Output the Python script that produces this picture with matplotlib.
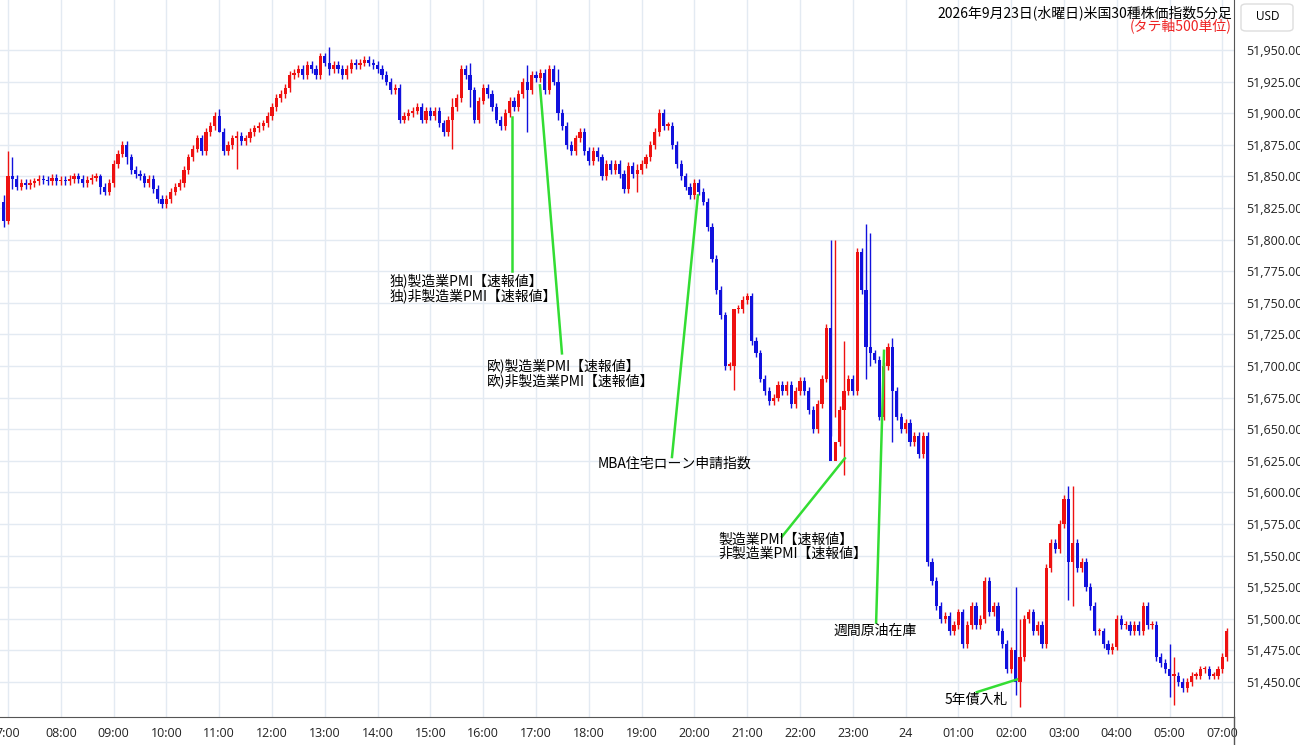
import matplotlib
matplotlib.use("Agg")
import matplotlib.pyplot as plt
from matplotlib.patches import FancyBboxPatch

plt.rcParams['font.family'] = ['Noto Sans CJK JP', 'DejaVu Sans']

# 5-minute closes, first candle 06:55, then hourly blocks from 07:00 (no 06:00 session)
first_open = 51830
closes = [51815,
 51850,51848,51842,51845,51843,51845,51846,51848,51847,51846,51849,51846,  # 07
 51847,51846,51848,51850,51848,51845,51847,51849,51850,51842,51838,51845,  # 08
 51860,51868,51875,51865,51855,51852,51850,51845,51848,51840,51832,51828,  # 09
 51832,51838,51842,51845,51855,51865,51872,51880,51870,51885,51890,51898,  # 10
 51885,51870,51875,51880,51882,51878,51880,51885,51888,51890,51892,51898,  # 11
 51905,51912,51915,51920,51930,51932,51935,51930,51938,51935,51930,51945,  # 12
 51940,51935,51938,51935,51930,51935,51940,51938,51940,51942,51940,51938,  # 13
 51935,51930,51925,51918,51920,51895,51898,51900,51902,51905,51895,51902,  # 14
 51898,51902,51892,51885,51895,51905,51912,51935,51930,51918,51895,51910,  # 15
 51920,51915,51905,51895,51890,51900,51910,51905,51915,51925,51918,51930,  # 16
 51928,51932,51918,51935,51925,51900,51890,51875,51870,51880,51885,51870,  # 17
 51862,51870,51865,51850,51860,51855,51860,51852,51840,51858,51852,51855,  # 18
 51860,51865,51875,51885,51900,51890,51890,51875,51860,51850,51842,51835,  # 19
 51845,51838,51830,51810,51785,51760,51740,51700,51700,51745,51745,51752,  # 20
 51755,51720,51710,51690,51680,51672,51675,51685,51680,51685,51670,51680,  # 21
 51688,51680,51665,51650,51670,51690,51730,51625,51640,51665,51680,51690,  # 22
 51680,51790,51760,51715,51710,51705,51660,51700,51715,51680,51660,51650,  # 23
 51655,51640,51645,51630,51645,51545,51530,51510,51500,51502,51490,51495,  # 00
 51505,51480,51495,51510,51495,51500,51530,51505,51510,51490,51480,51460,  # 01
 51475,51450,51470,51500,51505,51490,51495,51480,51540,51560,51555,51575,  # 02
 51595,51545,51560,51540,51545,51525,51510,51490,51490,51480,51475,51478,  # 03
 51500,51495,51495,51490,51495,51490,51510,51495,51495,51470,51465,51460,  # 04
 51455,51455,51450,51445,51450,51455,51455,51460,51460,51455,51455,51460,  # 05
 51470,51490]  # 07
# notable wick extremes: candle index -> (high, low)
wicks = {0: (51835, 51810), 1: (51870, 51812), 2: (51865, 51840), 22: (51852, 51836),
         28: (51878, 51860), 49: (51903, 51885), 53: (51886, 51856), 74: (51952, 51930),
         102: (51912, 51872), 106: (51940, 51905), 119: (51938, 51885), 126: (51935, 51895),
         144: (51860, 51838), 166: (51745, 51681), 188: (51800, 51645), 189: (51800, 51660),
         191: (51720, 51614), 196: (51812, 51690), 197: (51805, 51700), 202: (51722, 51640),
         230: (51525, 51440), 231: (51500, 51430), 242: (51605, 51515), 243: (51605, 51510),
         265: (51480, 51438), 266: (51470, 51432)}
tick_labels = ["7:00", "08:00", "09:00", "10:00", "11:00", "12:00", "13:00", "14:00", "15:00",
               "16:00", "17:00", "18:00", "19:00", "20:00", "21:00", "22:00", "23:00", "24",
               "01:00", "02:00", "03:00", "04:00", "05:00", "07:00"]
price_ticks = list(range(51450, 51951, 25))
events = [
    ("独)製造業PMI【速報値】\n独)非製造業PMI【速報値】", 115.5, 51897, 115.5, 51775, 87.8, 51773),
    ("欧)製造業PMI【速報値】\n欧)非製造業PMI【速報値】", 121.9, 51922, 126.9, 51710, 109.9, 51706),
    ("MBA住宅ローン申請指数", 157.8, 51835, 151.9, 51628, 135.1, 51628),
    ("製造業PMI【速報値】\n非製造業PMI【速報値】", 191.2, 51627, 176.9, 51565, 162.4, 51568),
    ("週間原油在庫", 200.1, 51712, 198.3, 51497, 188.5, 51496),
    ("5年債入札", 230.3, 51452, 221.2, 51442, 213.9, 51441),
]

W, H = 1300, 745
fig = plt.figure(figsize=(13, 7.45), dpi=100)
ax = fig.add_axes([0, 28 / H, 1234 / W, 1 - 28 / H])

def xi(px):
    return (px - 8) / 4.4 + 1

def py(p):
    return 51950 - (p - 50) / 1.264

ax.set_xlim(xi(0), xi(1234))
ax.set_ylim(py(717), py(0))

opens = [first_open] + closes[:-1]
for i, (o, c) in enumerate(zip(opens, closes)):
    col = '#ee1111' if c >= o else '#1111dd'
    hi, lo = wicks.get(i, (max(o, c) + 3, min(o, c) - 3))
    ax.vlines(i, lo, hi, color=col, lw=1.0, zorder=3)
    b = max(abs(c - o), 1.2)
    ax.bar(i, b, bottom=min(o, c), width=0.7, color=col, zorder=4, linewidth=0)

for t, x1, y1, x2, y2, tx, ty in events:
    ax.plot([x1, x2], [y1, y2], color='#33dd33', lw=1.8, zorder=5)
    ax.text(tx, ty, t, fontsize=10, va='top', ha='left', linespacing=1.0, zorder=6)

ax.set_xticks([1 + 12 * k for k in range(len(tick_labels))])
ax.set_xticklabels(tick_labels, fontsize=9, color='#222222',
                   family=['Open Sans', 'DejaVu Sans'])
ax.set_yticks(price_ticks)
ax.yaxis.tick_right()
ax.set_yticklabels([f"{p:,.2f}" for p in price_ticks], fontsize=9, color='#222222',
                   family=['Open Sans', 'DejaVu Sans'])
ax.tick_params(length=0, pad=7)
ax.tick_params(axis='y', pad=9)
ax.grid(True, color='#e3eaf2', lw=1)
for s in ['top', 'left']:
    ax.spines[s].set_visible(False)
ax.spines['bottom'].set_color('#555555')
ax.spines['right'].set_color('#555555')

fig.text(1232 / W, 1 - 13 / H, "2026年9月23日(水曜日)米国30種株価指数5分足", ha='right', va='center',
         fontsize=10)
fig.text(1232 / W, 1 - 26 / H, "(タテ軸500単位)", ha='right', va='center', fontsize=10,
         color='#ee2222')
box = FancyBboxPatch((1241 / W, 1 - 31 / H), 52 / W, 27 / H, boxstyle="round,pad=0,rounding_size=0.004",
                     transform=fig.transFigure, fc='white', ec='#dddddd', lw=1)
fig.patches.append(box)
fig.text(1256 / W, 1 - 17 / H, "USD", ha='left', va='center', fontsize=8.5,
         family=['Open Sans', 'DejaVu Sans'])
fig.add_artist(plt.Line2D([1234 / W, 1234 / W], [0, 28 / H], color='#555555', lw=1))

fig.savefig("out.png", dpi=100)
